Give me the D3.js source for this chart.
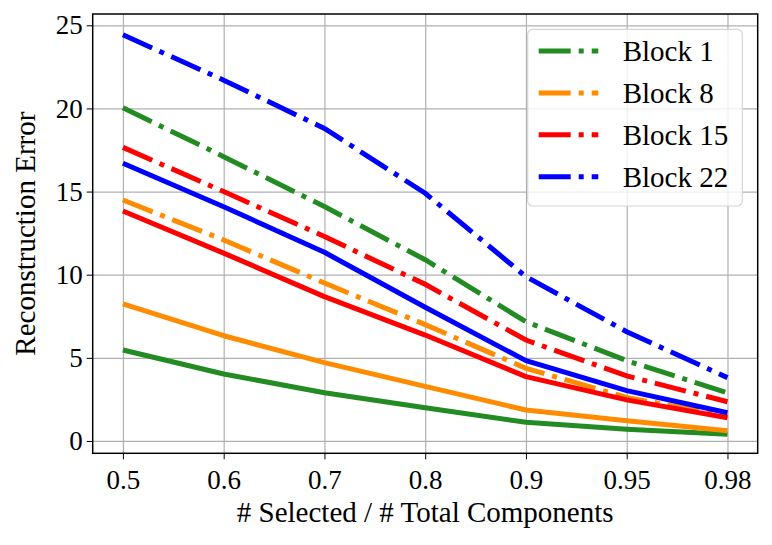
<!DOCTYPE html>
<html>
<head>
<meta charset="utf-8">
<script src="https://cdn.jsdelivr.net/npm/d3@7"></script>
<style>
  body { margin: 0; background: #fff; }
</style>
</head>
<body>
<div id="chart"></div>
<script>
// ratio of selected components (categorical, equally spaced)
const RATIOS = ["0.5", "0.6", "0.7", "0.8", "0.9", "0.95", "0.98"];
const Y_TICKS = [0, 5, 10, 15, 20, 25];

const BLOCKS = ["Block 1", "Block 8", "Block 15", "Block 22"];
const COLORS = ["#228b22", "#ff8c00", "#ff0000", "#0000ff"];

// dash-dot series (in legend)
const DASHDOT = [
  [20.04, 17.1, 14.1, 10.9, 7.17, 4.83, 2.9],
  [14.49, 12.09, 9.5, 7.0, 4.37, 2.62, 1.5],
  [17.66, 15.0, 12.3, 9.42, 6.07, 3.91, 2.36],
  [24.43, 21.7, 18.8, 14.9, 9.88, 6.57, 3.81],
];
// solid series (no legend entry)
const SOLID = [
  [5.47, 4.03, 2.9, 2.0, 1.12, 0.7, 0.4],
  [8.24, 6.33, 4.71, 3.28, 1.86, 1.22, 0.62],
  [13.83, 11.3, 8.68, 6.37, 3.87, 2.47, 1.4],
  [16.7, 14.09, 11.35, 8.04, 4.83, 3.03, 1.7],
];

const FONT = "'Liberation Serif', 'Times New Roman', Times, serif";

const totalW = 772, totalH = 545;
const margin = { top: 14, right: 14.3, bottom: 91.7, left: 92.7 };
const W = totalW - margin.left - margin.right;
const H = totalH - margin.top - margin.bottom;

const svg = d3.select("#chart").append("svg")
  .attr("width", totalW).attr("height", totalH)
  .attr("font-family", FONT);
const g = svg.append("g").attr("transform", `translate(${margin.left},${margin.top})`);

/* ── Scales ── */
const x = d3.scaleLinear().domain([-0.3, RATIOS.length - 1 + 0.3]).range([0, W]);
const y = d3.scaleLinear().domain([-0.742, 25.68]).range([H, 0]);
const idx = d3.range(RATIOS.length);

/* ── Grid ── */
g.append("g")
  .call(d3.axisLeft(y).tickValues(Y_TICKS).tickSize(-W).tickFormat(""))
  .call(ax => { ax.select(".domain").remove(); ax.selectAll("line").attr("stroke", "#b0b0b0").attr("stroke-width", 1.2); });
g.append("g").attr("transform", `translate(0,${H})`)
  .call(d3.axisBottom(x).tickValues(idx).tickSize(-H).tickFormat(""))
  .call(ax => { ax.select(".domain").remove(); ax.selectAll("line").attr("stroke", "#b0b0b0").attr("stroke-width", 1.2); });

/* ── Lines ── */
const line = d3.line().x((d, i) => x(i)).y(d => y(d));
BLOCKS.forEach((b, k) => {
  g.append("path").datum(DASHDOT[k])
    .attr("d", line).attr("fill", "none")
    .attr("stroke", COLORS[k]).attr("stroke-width", 5)
    .attr("stroke-dasharray", "32,8,5,8");
  g.append("path").datum(SOLID[k])
    .attr("d", line).attr("fill", "none")
    .attr("stroke", COLORS[k]).attr("stroke-width", 5)
    .attr("stroke-linejoin", "round");
});

/* ── Frame ── */
g.append("rect").attr("width", W).attr("height", H)
  .attr("fill", "none").attr("stroke", "#000").attr("stroke-width", 1.5);

/* ── Axes ── */
g.append("g").attr("transform", `translate(0,${H})`)
  .call(d3.axisBottom(x).tickValues(idx).tickSize(6).tickPadding(9).tickFormat(i => RATIOS[i]))
  .call(ax => { ax.select(".domain").remove(); ax.selectAll("line").attr("stroke", "#000"); })
  .call(ax => ax.attr("font-family", FONT).attr("font-size", 27))
  .selectAll("text").attr("fill", "#000").attr("dy", "0.75em");

g.append("g")
  .call(d3.axisLeft(y).tickValues(Y_TICKS).tickSize(6).tickPadding(4).tickFormat(d3.format("d")))
  .call(ax => { ax.select(".domain").remove(); ax.selectAll("line").attr("stroke", "#000"); })
  .call(ax => ax.attr("font-family", FONT).attr("font-size", 27))
  .selectAll("text").attr("fill", "#000");

/* ── Axis labels ── */
svg.append("text").attr("x", margin.left + W / 2).attr("y", 522)
  .attr("text-anchor", "middle").attr("font-size", 29)
  .text("# Selected / # Total Components");
svg.append("text").attr("transform", `translate(35,${margin.top + H / 2}) rotate(-90)`)
  .attr("text-anchor", "middle").attr("font-size", 29)
  .text("Reconstruction Error");

/* ── Legend ── */
const leg = svg.append("g").attr("transform", "translate(527.7,29.3)");
leg.append("rect").attr("width", 214.6).attr("height", 176.7).attr("rx", 5)
  .attr("fill", "#fff").attr("fill-opacity", 0.8).attr("stroke", "#d6d6d6").attr("stroke-width", 1.2);
BLOCKS.forEach((b, k) => {
  const ry = 21.7 + k * 41.9;
  leg.append("line").attr("x1", 11).attr("x2", 70.6).attr("y1", ry).attr("y2", ry)
    .attr("stroke", COLORS[k]).attr("stroke-width", 5).attr("stroke-dasharray", "32,8,5,8");
  leg.append("text").attr("x", 95).attr("y", ry).attr("dy", "0.36em")
    .attr("font-size", 29).text(b);
});
</script>
</body>
</html>
